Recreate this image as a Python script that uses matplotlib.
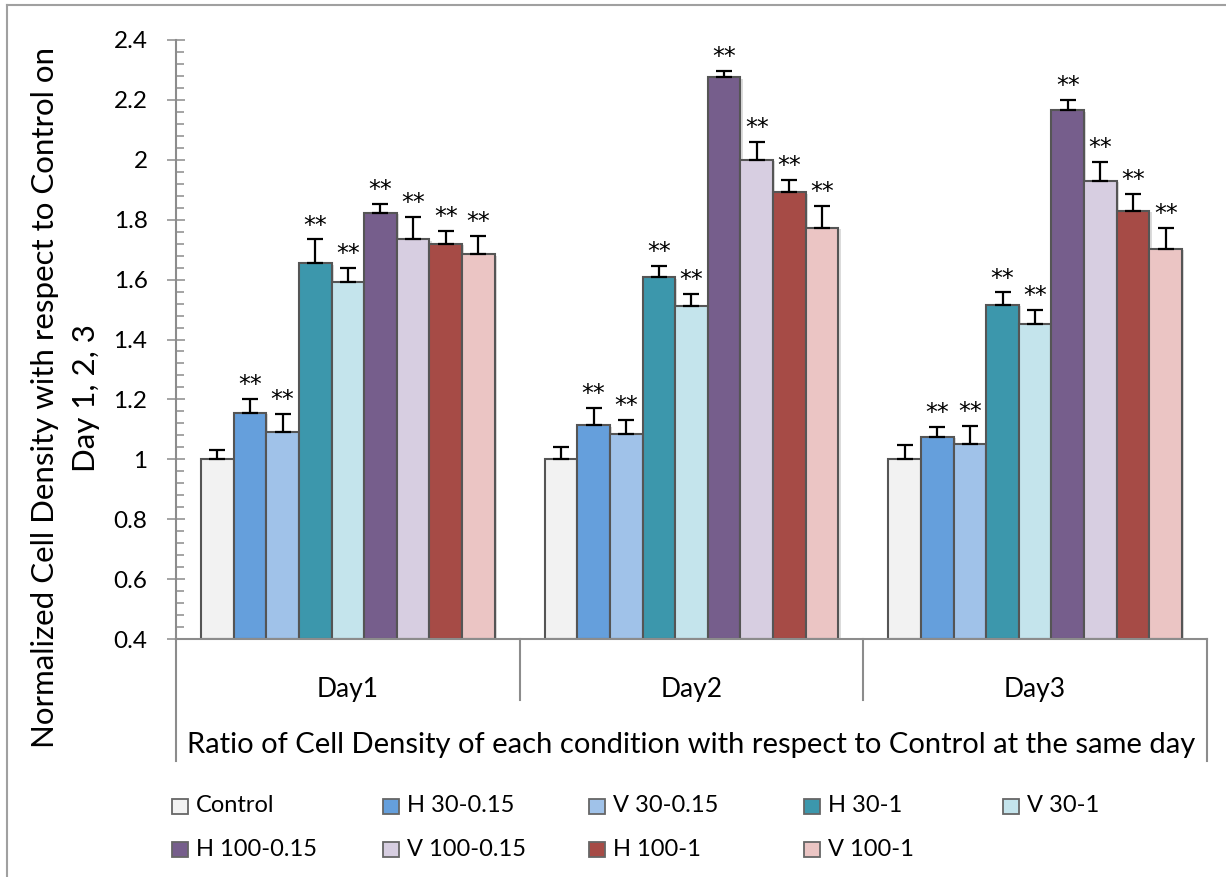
import matplotlib
matplotlib.use("Agg")
import matplotlib.pyplot as plt
import matplotlib.transforms as mtransforms
import matplotlib.patheffects as pe
from matplotlib.patches import Rectangle
from matplotlib.lines import Line2D
import numpy as np

plt.rcParams['font.family'] = ['Lato', 'DejaVu Sans']

# ---- data ----
days = ["Day1", "Day2", "Day3"]
conditions = ["Control", "H 30-0.15", "V 30-0.15", "H 30-1", "V 30-1",
              "H 100-0.15", "V 100-0.15", "H 100-1", "V 100-1"]

# normalized cell density, one list per condition (Day1, Day2, Day3)
control      = [1.000, 1.000, 1.000]
h30_015      = [1.155, 1.113, 1.075]
v30_015      = [1.092, 1.086, 1.050]
h30_1        = [1.654, 1.608, 1.515]
v30_1        = [1.593, 1.511, 1.453]
h100_015     = [1.822, 2.275, 2.165]
v100_015     = [1.734, 2.000, 1.929]
h100_1       = [1.719, 1.891, 1.830]
v100_1       = [1.684, 1.773, 1.702]

# upper error (standard deviation)
control_err  = [0.030, 0.042, 0.048]
h30_015_err  = [0.045, 0.057, 0.033]
v30_015_err  = [0.058, 0.046, 0.060]
h30_1_err    = [0.080, 0.039, 0.042]
v30_1_err    = [0.045, 0.042, 0.047]
h100_015_err = [0.031, 0.022, 0.035]
v100_015_err = [0.076, 0.060, 0.063]
h100_1_err   = [0.042, 0.041, 0.056]
v100_1_err   = [0.061, 0.074, 0.070]

# significance marks per condition
significance = ["", "**", "**", "**", "**", "**", "**", "**", "**"]

yticks = [0.4, 0.6, 0.8, 1.0, 1.2, 1.4, 1.6, 1.8, 2.0, 2.2, 2.4]
ytick_labels = ["0.4", "0.6", "0.8", "1", "1.2", "1.4", "1.6", "1.8", "2", "2.2", "2.4"]

ylabel_lines = ["Normalized Cell Density with respect to Control on", "Day 1, 2, 3"]
xtitle = "Ratio of Cell Density of each condition with respect to Control at the same day"

values = [control, h30_015, v30_015, h30_1, v30_1, h100_015, v100_015, h100_1, v100_1]
errors = [control_err, h30_015_err, v30_015_err, h30_1_err, v30_1_err,
          h100_015_err, v100_015_err, h100_1_err, v100_1_err]

colors = ["#F2F2F2", "#659FDC", "#A0C2E9", "#3C97AC", "#C4E4EC",
          "#765E8C", "#D7CEE1", "#A64B46", "#EBC5C4"]

# ---- figure ----
W, H = 1226, 877
fig = plt.figure(figsize=(W / 100, H / 100), dpi=100)

def fx(px):
    return px / W

def fy(py):
    return 1 - py / H

ax = fig.add_axes([fx(176), fy(639), fx(1207) - fx(176), fy(40) - fy(639)])
axis_gray = "#8C8C8C"
bar_shadow = [pe.SimplePatchShadow(offset=(1.5, -1.0), shadow_rgbFace="#9A9A9A", alpha=0.35),
              pe.Normal()]

n = len(conditions)
bar_w = 0.095
x = np.arange(len(days))
for i, (name, vals, errs, col, sig) in enumerate(zip(conditions, values, errors, colors, significance)):
    xs = x + (i - (n - 1) / 2) * bar_w
    bars = ax.bar(xs, np.array(vals) - 0.4, bottom=0.4, width=bar_w, color=col,
                  edgecolor="#555555", linewidth=1.5, zorder=2)
    for b in bars:
        b.set_path_effects(bar_shadow)
    ax.errorbar(xs, vals, yerr=[np.zeros(len(errs)), errs], fmt="none",
                ecolor="black", elinewidth=1.6, capsize=5.5, capthick=1.6, zorder=3)
    if sig:
        for xi, v, e in zip(xs, vals, errs):
            ax.annotate(sig, xy=(xi, v + e), xytext=(0, 5), textcoords="offset points",
                        ha="center", va="baseline", fontsize=17,
                        family="DejaVu Sans", zorder=4)

ax.set_xlim(-0.5, len(days) - 0.5)
ax.set_ylim(0.4, 2.4)
ax.set_yticks(yticks)
ax.set_yticklabels(ytick_labels)
ax.set_yticks(np.arange(0.4, 2.401, 0.04), minor=True)
ax.tick_params(axis="y", which="major", direction="inout", length=13, width=1.1,
               color=axis_gray, labelsize=17.5, pad=14)
ax.tick_params(axis="y", which="minor", direction="in", length=5.5, width=1.1, color=axis_gray)
ax.set_xticks([])
for s in ("top", "right"):
    ax.spines[s].set_visible(False)
for s in ("left", "bottom"):
    ax.spines[s].set_color(axis_gray)
    ax.spines[s].set_linewidth(1.5)

# category axis: separators, day labels and outer title
trans = mtransforms.blended_transform_factory(ax.transData, ax.transAxes)
ax_h_px = 639 - 40
for b in np.arange(0.5, len(days) - 1, 1.0):
    ax.add_line(Line2D([b, b], [0, -(700 - 639) / ax_h_px], transform=trans,
                       color=axis_gray, lw=1.5, clip_on=False))
for b in (-0.5, len(days) - 0.5):
    ax.add_line(Line2D([b, b], [0, -(761 - 639) / ax_h_px], transform=trans,
                       color=axis_gray, lw=1.5, clip_on=False))
for xi, d in zip(x, days):
    ax.text(xi, -(690 - 639) / ax_h_px, d, transform=trans, ha="center", va="center",
            fontsize=19)
ax.text(1.0, -(745 - 639) / ax_h_px, xtitle, transform=trans, ha="center", va="center",
        fontsize=21)

# two-line y axis title
for px, line in zip((45, 86), ylabel_lines):
    fig.text(fx(px), fy(398), line, rotation=90, ha="center", va="center", fontsize=22.5)

# legend grid
col_x = [172, 383, 589, 804, 1003]
row_y = [806, 849]
for i, (name, col) in enumerate(zip(conditions, colors)):
    r, c = divmod(i, 5)
    px, py = col_x[c], row_y[r]
    fig.patches.append(Rectangle((fx(px), fy(py + 8)), fx(16), 15 / H, transform=fig.transFigure,
                                 facecolor=col, edgecolor="#666666", linewidth=1.3))
    fig.text(fx(px + 24), fy(py), name, ha="left", va="center", fontsize=17)

# outer frame (top and left edges)
fig.add_artist(Line2D([fx(7), fx(7)], [0, fy(5)], transform=fig.transFigure,
                      color="#A0A0A0", lw=1.5))
fig.add_artist(Line2D([fx(7), 1], [fy(5), fy(5)], transform=fig.transFigure,
                      color="#A0A0A0", lw=1.5))

fig.savefig("out.png", dpi=100, facecolor="white")
